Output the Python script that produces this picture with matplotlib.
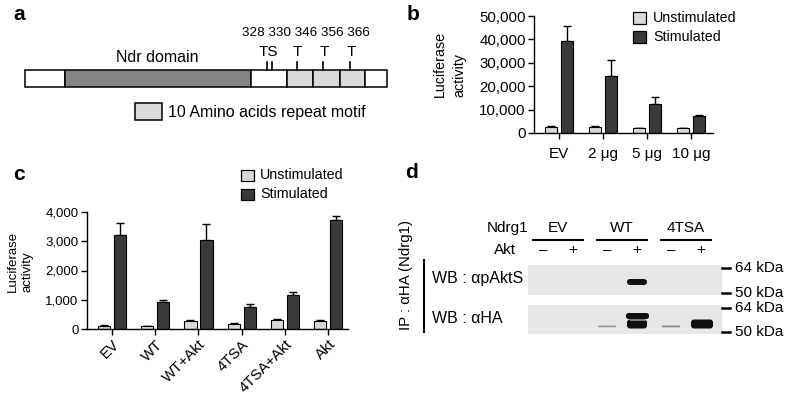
import matplotlib
matplotlib.use("Agg")
import matplotlib.pyplot as plt
from matplotlib.patches import Rectangle, FancyBboxPatch

plt.rcParams["font.family"] = ["Liberation Sans", "DejaVu Sans"]

# ---------- data ----------
# panel a: schematic of Ndrg1 (segment edges in schematic units, kind of segment)
seg_edges = [25, 65, 251, 287, 313, 340, 365, 387]
seg_kind = ["none", "ndr", "none", "repeat", "repeat", "repeat", "none"]
site_labels = ["TS", "T", "T", "T"]
site_numbers = "328 330 346 356 366"

# panel b
b_groups = ["EV", "2 μg", "5 μg", "10 μg"]
b_unstim = [2700, 2550, 2100, 1950]
b_unstim_err = [300, 250, 250, 100]
b_stim = [39300, 24200, 12400, 7300]
b_stim_err = [6400, 7000, 2800, 400]

# panel c
c_groups = ["EV", "WT", "WT+Akt", "4TSA", "4TSA+Akt", "Akt"]
c_unstim = [115, 100, 285, 180, 310, 285]
c_unstim_err = [35, 10, 20, 35, 15, 30]
c_stim = [3200, 910, 3040, 765, 1160, 3720]
c_stim_err = [410, 80, 550, 80, 90, 160]

# panel d: western blot
ndrg1 = ["EV", "WT", "4TSA"]
akt = ["\u2013", "+"]
pakts_band = [0, 0, 0, 1.0, 0, 0]
ha_band = [0, 0, 0.3, 1.0, 0.35, 1.0]
kda_marks = ["64 kDa", "50 kDa"]

UNSTIM = "#d9d9d9"
STIM = "#3a3a3a"

fig = plt.figure(figsize=(7.88, 4.0), dpi=100)

axb = fig.add_axes([534 / 788, 1 - 133 / 400, 179 / 788, 117 / 400])
axc = fig.add_axes([87 / 788, 1 - 329 / 400, 261 / 788, 117 / 400])

# overlay in pixel coordinates for the schematic, the blot and the legends
ov = fig.add_axes([0, 0, 1, 1])
ov.set_xlim(0, 788)
ov.set_ylim(400, 0)
ov.axis("off")
ov.set_zorder(5)

for lab, x, y in [("a", 19, 15), ("b", 413, 15), ("c", 19, 175), ("d", 412, 173)]:
    ov.text(x, y, lab, fontsize=15, fontweight="bold", ha="center", va="center")

# ---------- panel a ----------
fills = {"none": "white", "ndr": "#858585", "repeat": "#dadada"}
for x0, x1, kind in zip(seg_edges[:-1], seg_edges[1:], seg_kind):
    ov.add_patch(Rectangle((x0, 70), x1 - x0, 17, facecolor=fills[kind],
                           edgecolor="black", lw=1.1))
ov.text(157, 57, "Ndr domain", fontsize=11.5, ha="center", va="center")

tick_x = [[267, 272], [297], [323], [350]]
label_x = [268, 297, 324, 351]
for lab, lx, txs in zip(site_labels, label_x, tick_x):
    ov.text(lx, 52, lab, fontsize=11, ha="center", va="center")
    for tx in txs:
        ov.plot([tx, tx], [62, 70], color="black", lw=1.2)
ov.text(306, 33, site_numbers, fontsize=9.7, ha="center", va="center")

ov.add_patch(Rectangle((135, 103), 27, 17, facecolor="#dadada",
                       edgecolor="black", lw=1.1))
ov.text(168, 112, "10 Amino acids repeat motif", fontsize=11.5,
        ha="left", va="center")


def bar_panel(ax, groups, u, ue, s, se, off, w):
    xs = list(range(len(groups)))
    for vals, errs, col, sgn in [(u, ue, UNSTIM, -1), (s, se, STIM, 1)]:
        pos = [x + sgn * off for x in xs]
        ax.bar(pos, vals, width=w, color=col, edgecolor="black", lw=0.8,
               zorder=2)
        ax.errorbar(pos, vals, yerr=[[0] * len(vals), errs], fmt="none",
                    ecolor="black", elinewidth=1.0, capsize=3, capthick=1.0,
                    zorder=1)
    ax.set_xticks(xs)
    for sp in ("top", "right"):
        ax.spines[sp].set_visible(False)
    for sp in ("left", "bottom"):
        ax.spines[sp].set_linewidth(1.0)
    ax.tick_params(direction="out", length=4, width=1.0, pad=2)


# ---------- panel b ----------
bar_panel(axb, b_groups, b_unstim, b_unstim_err, b_stim, b_stim_err, 0.185, 0.27)
axb.set_xlim(-0.57, 3.5)
axb.set_ylim(0, 50000)
axb.set_yticks(range(0, 50001, 10000))
axb.set_yticklabels([f"{v:,}" for v in range(0, 50001, 10000)], fontsize=10.8)
axb.set_xticklabels(b_groups, fontsize=11)
axb.tick_params(axis="x", pad=6)
ov.text(450, 97, "Luciferase\nactivity", rotation=90, fontsize=10.3,
        ha="center", va="bottom", multialignment="left", linespacing=1.5)

for i, (lab, col) in enumerate([("Unstimulated", UNSTIM), ("Stimulated", STIM)]):
    ov.add_patch(Rectangle((633, 12 + i * 19), 13, 12, facecolor=col,
                           edgecolor="black", lw=0.9))
    ov.text(653, 18 + i * 19, lab, fontsize=10.3, ha="left", va="center")

# ---------- panel c ----------
bar_panel(axc, c_groups, c_unstim, c_unstim_err, c_stim, c_stim_err, 0.185, 0.28)
axc.set_xlim(-0.58, 5.46)
axc.set_ylim(0, 4000)
axc.set_yticks(range(0, 4001, 1000))
axc.set_yticklabels([f"{v:,}" for v in range(0, 4001, 1000)], fontsize=9.5)
axc.set_xticklabels(c_groups, fontsize=10.8, rotation=45, ha="right",
                    rotation_mode="anchor")
ov.text(20, 292, "Luciferase\nactivity", rotation=90, fontsize=9.5,
        ha="center", va="bottom", multialignment="left", linespacing=1.35)

for i, (lab, col) in enumerate([("Unstimulated", UNSTIM), ("Stimulated", STIM)]):
    ov.add_patch(Rectangle((241, 170 + i * 19), 13, 11, facecolor=col,
                           edgecolor="black", lw=0.9))
    ov.text(260, 175 + i * 19, lab, fontsize=10.3, ha="left", va="center")

# ---------- panel d ----------
lane_x = [543 + g * 64 + s * 30 for g in range(3) for s in range(2)]

ov.text(528, 228, "Ndrg1", fontsize=11, ha="right", va="center")
ov.text(516, 250, "Akt", fontsize=11, ha="right", va="center")
for g, name in enumerate(ndrg1):
    cx = (lane_x[2 * g] + lane_x[2 * g + 1]) / 2
    ov.text(cx, 228, name, fontsize=11, ha="center", va="center")
    ov.plot([cx - 25, cx + 25], [240, 240], color="black", lw=1.5)
for i, x in enumerate(lane_x):
    ov.text(x, 250, akt[i % 2], fontsize=11, ha="center", va="center")

blots = [(265, 295, "WB : \u03b1pAktS", pakts_band, 282),
         (305, 334, "WB : \u03b1HA", ha_band, 324)]
for top, bot, lab, band, by in blots:
    ov.add_patch(Rectangle((528, top), 194, bot - top, facecolor="#e7e7e7",
                           edgecolor="none"))
    ov.text(432, (top + bot) / 2 - 1, lab, fontsize=11.5, ha="left", va="center")
    for i, (x, v) in enumerate(zip(lane_x, band)):
        if v <= 0:
            continue
        if v >= 0.9:
            h = 6 if top < 300 else 9
            ov.add_patch(FancyBboxPatch((x - 10, by - h / 2), 20 + (i == 5) * 2, h,
                                        boxstyle="round,pad=0,rounding_size=3",
                                        facecolor="#111111", edgecolor="none"))
        else:
            ov.add_patch(FancyBboxPatch((x - 9, by + 1.5), 18, 1.8,
                                        boxstyle="round,pad=0,rounding_size=0.9",
                                        facecolor=str(1 - v * 1.3),
                                        edgecolor="none"))
    # kDa markers
    for y, m in zip([top + 3, bot - 2], kda_marks):
        ov.plot([722, 730], [y, y], color="black", lw=1.8)
        ov.text(735, y, m, fontsize=11, ha="left", va="center")

# WT + Akt doublet in the HA blot
ov.add_patch(FancyBboxPatch((lane_x[3] - 11, 313), 23, 6,
                            boxstyle="round,pad=0,rounding_size=2.5",
                            facecolor="#111111", edgecolor="none"))
ov.plot([lane_x[3] - 7, lane_x[3] + 8], [319.5, 319.5], color="#777777", lw=0.8)

ov.plot([424, 424], [260, 332], color="black", lw=1.5)
ov.text(406, 275, "IP : \u03b1HA (Ndrg1)", rotation=90, fontsize=10.8,
        ha="center", va="center")

fig.savefig("out.png", dpi=100)
